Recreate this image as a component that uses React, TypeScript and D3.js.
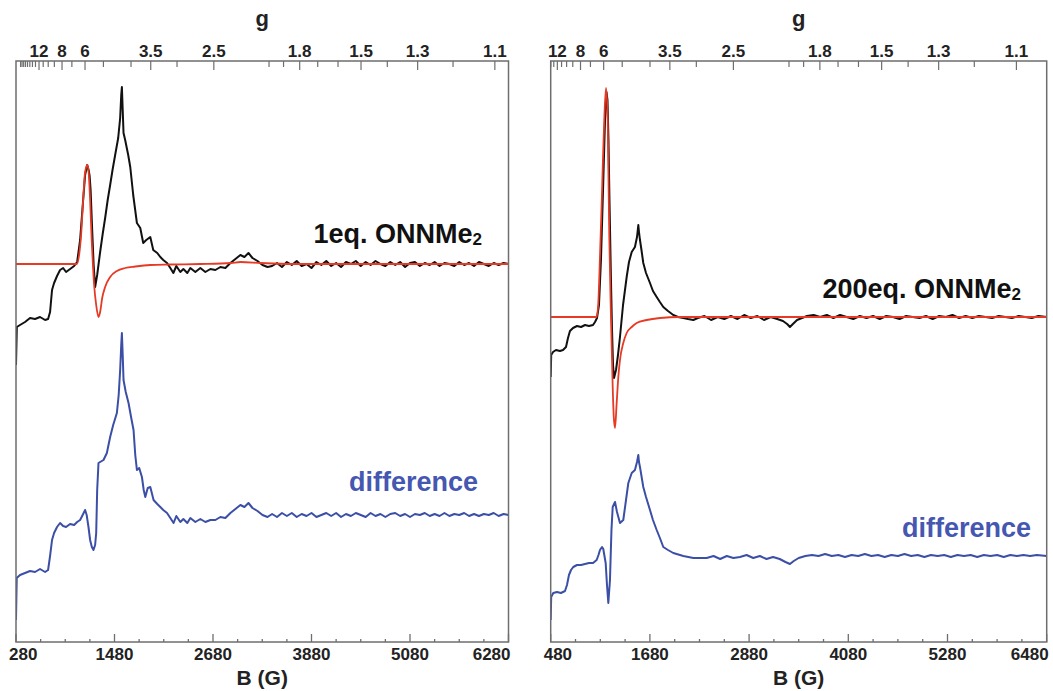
import React from 'react';
import * as d3 from 'd3';

// hν/β (G) for converting field B to g-value
const G_FACTOR = 6725;
const gLabeled = [12, 8, 6, 3.5, 2.5, 1.8, 1.5, 1.3, 1.1];
const gUnlabeled = [20, 19, 18, 17, 16, 15, 14, 13, 11, 10, 9, 7, 5, 4, 3, 2, 1.9, 1.7, 1.6, 1.4, 1.2];

const leftFieldDomain = [280, 6280];
const rightFieldDomain = [480, 6480];
const fieldMajorStep = 1200;
const fieldMinorStep = 300;

const leftIntensityDomain = [-3.78, 2.03];
const rightIntensityDomain = [-3.25, 2.56];
const leftDiffOffset = -2.51;
const rightDiffOffset = -2.4;

// ---------- 1 eq. ONNMe2 ----------
const leftBlackMain = [
  [280, -1.01], [290, -0.63], [329, -0.61], [390, -0.58], [451, -0.54], [512, -0.55], [573, -0.53], [634, -0.56],
  [671, -0.55], [695, -0.48], [719, -0.26], [744, -0.19], [780, -0.12], [817, -0.06], [854, -0.04], [890, -0.08],
  [939, -0.05], [988, -0.02], [1025, 0.02], [1061, 0.24], [1098, 0.64], [1122, 0.89], [1147, 0.99], [1165, 0.94],
  [1177, 0.88], [1189, 0.74], [1208, 0.34], [1226, -0.01], [1244, -0.23], [1269, -0.11], [1305, 0.12], [1336, 0.3],
  [1366, 0.46], [1397, 0.64], [1427, 0.79], [1458, 0.95], [1488, 1.09], [1525, 1.26], [1549, 1.46], [1562, 1.69],
  [1570, 1.77], [1580, 1.54], [1590, 1.31], [1610, 1.24], [1647, 1.09], [1672, 0.97], [1708, 0.69], [1753, 0.41],
  [1794, 0.36], [1830, 0.21], [1867, 0.24], [1916, 0.27], [1952, 0.14], [2001, 0.11], [2038, 0.07], [2074, 0.04],
  [2120, 0.01], [2160, -0.04], [2197, -0.09], [2233, -0.02], [2282, -0.08], [2319, -0.05], [2367, -0.09], [2404, -0.04],
  [2465, -0.08], [2526, -0.04], [2587, -0.08], [2648, -0.05], [2709, -0.06], [2770, -0.03], [2831, -0.04], [2892, 0.01],
  [2953, 0.05], [3014, 0.09], [3063, 0.07], [3112, 0.11], [3161, 0.06], [3222, 0.03], [3283, -0.01], [3344, -0.03],
];
const leftBlackTail = [
  [3400, -0.02], [3460, 0.01], [3520, -0.03], [3580, 0.02], [3640, -0.01], [3700, 0.03], [3760, -0.02], [3820, 0.0],
  [3880, -0.04], [3940, 0.02], [4000, -0.01], [4060, 0.03], [4120, -0.02], [4180, 0.01], [4240, -0.03], [4300, 0.02],
  [4360, 0.0], [4420, 0.03], [4480, -0.02], [4540, 0.02], [4600, -0.01], [4660, 0.03], [4720, 0.0], [4780, -0.02],
  [4840, 0.02], [4900, -0.01], [4960, 0.02], [5020, -0.03], [5080, 0.01], [5140, 0.02], [5200, -0.02], [5260, 0.01],
  [5320, -0.01], [5380, 0.02], [5440, -0.02], [5500, 0.01], [5560, 0.0], [5620, -0.02], [5680, 0.02], [5740, -0.01],
  [5800, 0.01], [5860, -0.02], [5920, 0.02], [5980, 0.0], [6040, -0.02], [6100, 0.01], [6160, -0.01], [6220, 0.01],
  [6280, 0.0],
];
const leftRedFit = [
  [280, 0], [1021, 0], [1049, 0.09], [1073, 0.29], [1098, 0.64], [1122, 0.92], [1150, 0.99], [1165, 0.92],
  [1183, 0.64], [1202, 0.24], [1216, 0.01], [1232, -0.21], [1257, -0.41], [1285, -0.53], [1305, -0.48], [1330, -0.34],
  [1366, -0.23], [1427, -0.13], [1509, -0.07], [1610, -0.04], [1733, -0.025], [1916, -0.01], [2160, -0.005], [2526, 0],
  [2900, 0.01], [3014, 0.02], [3258, 0.01], [3625, 0], [6280, 0],
];
const leftDiffMain = [
  [280, -1.05], [289, -0.63], [329, -0.6], [390, -0.58], [451, -0.56], [512, -0.57], [573, -0.54], [634, -0.57],
  [671, -0.55], [695, -0.41], [719, -0.25], [744, -0.18], [780, -0.12], [817, -0.08], [854, -0.11], [890, -0.12],
  [939, -0.09], [988, -0.1], [1025, -0.07], [1061, -0.05], [1086, -0.01], [1122, 0.05], [1141, 0.0], [1163, -0.12],
  [1183, -0.25], [1204, -0.32], [1224, -0.35], [1244, -0.3], [1257, -0.18], [1269, 0.25], [1285, 0.52], [1305, 0.53],
  [1346, 0.55], [1387, 0.62], [1427, 0.78], [1464, 0.9], [1509, 1.02], [1531, 1.2], [1549, 1.45], [1562, 1.7],
  [1570, 1.82], [1580, 1.6], [1590, 1.35], [1617, 1.23], [1651, 1.12], [1684, 0.97], [1712, 0.85], [1733, 0.6],
  [1753, 0.45], [1781, 0.47], [1814, 0.38], [1836, 0.25], [1855, 0.18], [1885, 0.27], [1916, 0.28], [1956, 0.15],
  [2001, 0.11], [2038, 0.08], [2074, 0.05], [2120, 0.02], [2160, -0.03], [2200, -0.08], [2233, -0.01], [2282, -0.07],
  [2319, -0.04], [2367, -0.08], [2404, -0.03], [2465, -0.07], [2526, -0.04], [2587, -0.07], [2648, -0.05], [2709, -0.05],
  [2770, -0.02], [2831, -0.03], [2892, 0.02], [2953, 0.06], [3014, 0.1], [3063, 0.08], [3112, 0.12], [3161, 0.07],
  [3222, 0.04], [3283, 0.0], [3344, -0.02],
];
const leftDiffTail = [
  [3400, 0.01], [3460, -0.02], [3520, 0.02], [3580, -0.01], [3640, 0.02], [3700, -0.02], [3760, 0.01], [3820, -0.01],
  [3880, 0.02], [3940, -0.02], [4000, 0.0], [4060, 0.02], [4120, -0.01], [4180, 0.02], [4240, -0.02], [4300, 0.01],
  [4360, -0.01], [4420, 0.02], [4480, 0.0], [4540, -0.02], [4600, 0.02], [4660, -0.01], [4720, 0.01], [4780, -0.02],
  [4840, 0.01], [4900, 0.02], [4960, -0.01], [5020, 0.01], [5080, -0.02], [5140, 0.01], [5200, 0.0], [5260, 0.02],
  [5320, -0.01], [5380, 0.01], [5440, -0.01], [5500, 0.02], [5560, -0.01], [5620, 0.01], [5680, 0.0], [5740, 0.02],
  [5800, -0.01], [5860, 0.01], [5920, -0.01], [5980, 0.01], [6040, 0.0], [6100, 0.02], [6160, -0.01], [6220, 0.01],
  [6280, 0.0],
];

// ---------- 200 eq. ONNMe2 ----------
const rightBlackMain = [
  [480, -0.6], [486, -0.38], [508, -0.35], [544, -0.33], [592, -0.34], [629, -0.33], [665, -0.3], [689, -0.21],
  [713, -0.14], [750, -0.11], [798, -0.09], [847, -0.1], [895, -0.08], [943, -0.09], [992, -0.08], [1016, -0.05],
  [1040, -0.01], [1064, 0.12], [1088, 0.57], [1113, 1.27], [1137, 1.97], [1155, 2.25], [1167, 2.17], [1179, 1.77],
  [1191, 1.17], [1209, 0.37], [1222, -0.13], [1234, -0.48], [1246, -0.61], [1270, -0.53], [1294, -0.38], [1318, -0.2],
  [1355, 0.12], [1399, 0.4], [1427, 0.55], [1460, 0.65], [1499, 0.7], [1524, 0.8], [1540, 0.92], [1548, 0.85],
  [1560, 0.77], [1578, 0.67], [1600, 0.54], [1633, 0.44], [1681, 0.34], [1717, 0.26], [1762, 0.2], [1801, 0.15],
  [1842, 0.1], [1899, 0.06], [1963, 0.02], [2020, 0.0], [2084, -0.01], [2141, -0.02], [2205, -0.03],
];
const rightBlackTail = [
  [2260, -0.01], [2340, 0.01], [2420, -0.03], [2500, 0.0], [2580, -0.02], [2660, 0.01], [2740, -0.02], [2820, 0.02],
  [2900, -0.01], [2980, 0.01], [3060, -0.03], [3140, 0.0], [3220, -0.02], [3290, -0.04], [3340, -0.07], [3374, -0.1],
  [3410, -0.07], [3460, -0.03], [3520, -0.01], [3580, 0.01], [3660, 0.02], [3740, 0.0], [3820, 0.02], [3900, -0.01],
  [3980, 0.02], [4060, 0.0], [4140, -0.02], [4220, 0.01], [4300, -0.01], [4380, 0.01], [4460, -0.02], [4540, 0.01],
  [4620, 0.0], [4700, -0.02], [4780, 0.01], [4860, 0.0], [4940, -0.01], [5020, 0.01], [5100, -0.02], [5180, 0.01],
  [5260, 0.0], [5340, 0.02], [5420, -0.01], [5500, 0.01], [5580, -0.01], [5660, 0.01], [5740, 0.0], [5820, -0.01],
  [5900, 0.01], [5980, 0.0], [6060, -0.01], [6140, 0.01], [6220, 0.0], [6300, -0.01], [6380, 0.01], [6480, 0.0],
];
const rightRedFit = [
  [480, 0], [1036, 0], [1056, 0.14], [1076, 0.6], [1097, 1.14], [1113, 1.6], [1128, 1.97], [1149, 2.29],
  [1170, 1.97], [1179, 1.4], [1189, 0.8], [1209, 0.0], [1230, -0.7], [1243, -1.0], [1258, -1.11], [1278, -0.86],
  [1298, -0.6], [1318, -0.43], [1358, -0.26], [1399, -0.16], [1460, -0.1], [1520, -0.06], [1641, -0.03], [1801, -0.01],
  [2044, 0], [6480, 0],
];
const rightDiffMain = [
  [480, -0.63], [486, -0.4], [511, -0.36], [556, -0.35], [604, -0.36], [653, -0.34], [677, -0.28], [701, -0.18],
  [726, -0.13], [753, -0.1], [798, -0.08], [847, -0.08], [895, -0.07], [943, -0.06], [992, -0.06], [1036, -0.03],
  [1058, 0.02], [1076, 0.07], [1101, 0.1], [1116, 0.08], [1145, -0.06], [1161, -0.28], [1177, -0.46], [1197, -0.23],
  [1215, 0.27], [1230, 0.5], [1258, 0.55], [1282, 0.45], [1318, 0.34], [1358, 0.37], [1391, 0.57], [1419, 0.74],
  [1460, 0.84], [1499, 0.87], [1524, 0.95], [1540, 1.02], [1548, 0.95], [1560, 0.9], [1600, 0.7], [1633, 0.6],
  [1681, 0.47], [1717, 0.37], [1762, 0.27], [1801, 0.19], [1842, 0.1], [1899, 0.07], [1963, 0.04], [2084, 0.01],
  [2205, -0.01], [2367, -0.01],
];
const rightDiffTail = [
  [2450, 0.01], [2530, -0.02], [2610, 0.01], [2690, -0.01], [2770, 0.0], [2850, 0.02], [2930, -0.01], [3010, 0.01],
  [3090, -0.02], [3170, 0.0], [3250, -0.02], [3320, -0.05], [3374, -0.07], [3420, -0.04], [3480, -0.01], [3560, 0.01],
  [3640, 0.02], [3720, 0.01], [3800, 0.03], [3880, 0.01], [3960, 0.02], [4040, 0.0], [4120, 0.02], [4200, 0.01],
  [4280, 0.03], [4360, 0.01], [4440, 0.02], [4520, 0.0], [4600, 0.02], [4680, 0.01], [4760, 0.03], [4840, 0.01],
  [4920, 0.02], [5000, 0.0], [5080, 0.02], [5160, 0.01], [5240, 0.02], [5320, 0.0], [5400, 0.02], [5480, 0.01],
  [5560, 0.02], [5640, 0.0], [5720, 0.02], [5800, 0.01], [5880, 0.02], [5960, 0.0], [6040, 0.02], [6120, 0.01],
  [6200, 0.02], [6280, 0.01], [6360, 0.02], [6480, 0.01],
];

const FONT = 'Liberation Sans, Arial, Helvetica, sans-serif';
const TOP = 61;
const BOTTOM = 642;
const FRAME = '#6e6e6e';
const BLACK = '#111111';
const RED = '#e63a24';
const BLUE = '#3b4fa6';
const BLUE_TEXT = '#4557b0';

type Pt = number[];

function Panel(props: {
  id: string; px0: number; px1: number; fieldDomain: number[]; intensityDomain: number[];
  black: Pt[]; red: Pt[]; diff: Pt[]; diffOffset: number;
  sampleText: string; sampleX: number; sampleY: number; diffX: number; diffY: number;
}) {
  const { id, px0, px1, fieldDomain, intensityDomain, black, red, diff, diffOffset } = props;
  const x = d3.scaleLinear().domain(fieldDomain).range([px0, px1]);
  const y = d3.scaleLinear().domain(intensityDomain).range([BOTTOM, TOP]);
  const raw = d3.line<Pt>().x((d) => x(d[0])).y((d) => y(d[1]));
  const smooth = d3.line<Pt>().x((d) => x(d[0])).y((d) => y(d[1])).curve(d3.curveMonotoneX);
  const diffLine = d3.line<Pt>().x((d) => x(d[0])).y((d) => y(d[1] + diffOffset));

  const fieldTicks = d3.range(fieldDomain[0], fieldDomain[1] + 1, fieldMinorStep);
  const gTicks = [
    ...gLabeled.map((g) => ({ g, major: true })),
    ...gUnlabeled.map((g) => ({ g, major: false })),
  ].filter((t) => G_FACTOR / t.g >= fieldDomain[0] && G_FACTOR / t.g <= fieldDomain[1]);
  const cx = (px0 + px1) / 2;

  return (
    <g>
      <defs>
        <clipPath id={id}>
          <rect x={px0} y={TOP} width={px1 - px0} height={BOTTOM - TOP} />
        </clipPath>
      </defs>
      <g clipPath={`url(#${id})`} fill="none" strokeLinejoin="round">
        <path d={diffLine(diff) || ''} stroke={BLUE} strokeWidth={2} />
        <path d={raw(black) || ''} stroke={BLACK} strokeWidth={2} />
        <path d={smooth(red) || ''} stroke={RED} strokeWidth={1.8} />
      </g>
      <rect x={px0} y={TOP} width={px1 - px0} height={BOTTOM - TOP} fill="none" stroke={FRAME} strokeWidth={1.5} />
      {fieldTicks.map((b, i) => {
        const major = (b - fieldDomain[0]) % fieldMajorStep === 0;
        return (
          <line key={'f' + i} x1={x(b)} x2={x(b)} y1={BOTTOM} y2={BOTTOM - (major ? 8 : 3)} stroke={FRAME} strokeWidth={1.3} />
        );
      })}
      {fieldTicks
        .filter((b) => (b - fieldDomain[0]) % fieldMajorStep === 0)
        .map((b, i, arr) => {
          let anchor: 'start' | 'middle' | 'end' = 'middle';
          let tx = x(b);
          if (i === 0) { anchor = 'start'; tx = x(b) - 7; }
          if (i === arr.length - 1) { anchor = 'end'; tx = x(b) + 2; }
          return (
            <text key={'fl' + i} x={tx} y={660} textAnchor={anchor} fontFamily={FONT} fontWeight="bold" fontSize={17} fill="#222">
              {b}
            </text>
          );
        })}
      <text x={cx} y={685} textAnchor="middle" fontFamily={FONT} fontWeight="bold" fontSize={21} fill="#222">B (G)</text>
      {gTicks.map((t, i) => (
        <line key={'g' + i} x1={x(G_FACTOR / t.g)} x2={x(G_FACTOR / t.g)} y1={TOP} y2={TOP + (t.major ? 9 : 6)} stroke={FRAME} strokeWidth={1.2} />
      ))}
      {gTicks.filter((t) => t.major).map((t, i) => (
        <text key={'gl' + i} x={x(G_FACTOR / t.g)} y={56.5} textAnchor="middle" fontFamily={FONT} fontWeight="bold" fontSize={17} fill="#222">
          {String(t.g)}
        </text>
      ))}
      <text x={cx} y={26} textAnchor="middle" fontFamily={FONT} fontWeight="bold" fontSize={22} fill="#222">g</text>
      <text x={props.sampleX} y={props.sampleY} textAnchor="end" fontFamily={FONT} fontWeight="bold" fontSize={27} fill={BLACK}>
        {props.sampleText}
        <tspan fontSize={17} dy={2}>2</tspan>
      </text>
      <text x={props.diffX} y={props.diffY} textAnchor="start" fontFamily={FONT} fontWeight="bold" fontSize={27} fill={BLUE_TEXT}>
        difference
      </text>
    </g>
  );
}

export default function App() {
  return (
    <svg width={1053} height={691} style={{ position: 'absolute', left: 0, top: 0, background: '#fff' }}>
      <rect x={0} y={0} width={1053} height={691} fill="#fff" />
      <Panel
        id="clipL" px0={16} px1={508.5} fieldDomain={leftFieldDomain} intensityDomain={leftIntensityDomain}
        black={[...leftBlackMain, ...leftBlackTail]} red={leftRedFit} diff={[...leftDiffMain, ...leftDiffTail]}
        diffOffset={leftDiffOffset} sampleText="1eq. ONNMe" sampleX={482} sampleY={243} diffX={349} diffY={491}
      />
      <Panel
        id="clipR" px0={550.7} px1={1046.7} fieldDomain={rightFieldDomain} intensityDomain={rightIntensityDomain}
        black={[...rightBlackMain, ...rightBlackTail]} red={rightRedFit} diff={[...rightDiffMain, ...rightDiffTail]}
        diffOffset={rightDiffOffset} sampleText="200eq. ONNMe" sampleX={1021} sampleY={298} diffX={902} diffY={537}
      />
    </svg>
  );
}
